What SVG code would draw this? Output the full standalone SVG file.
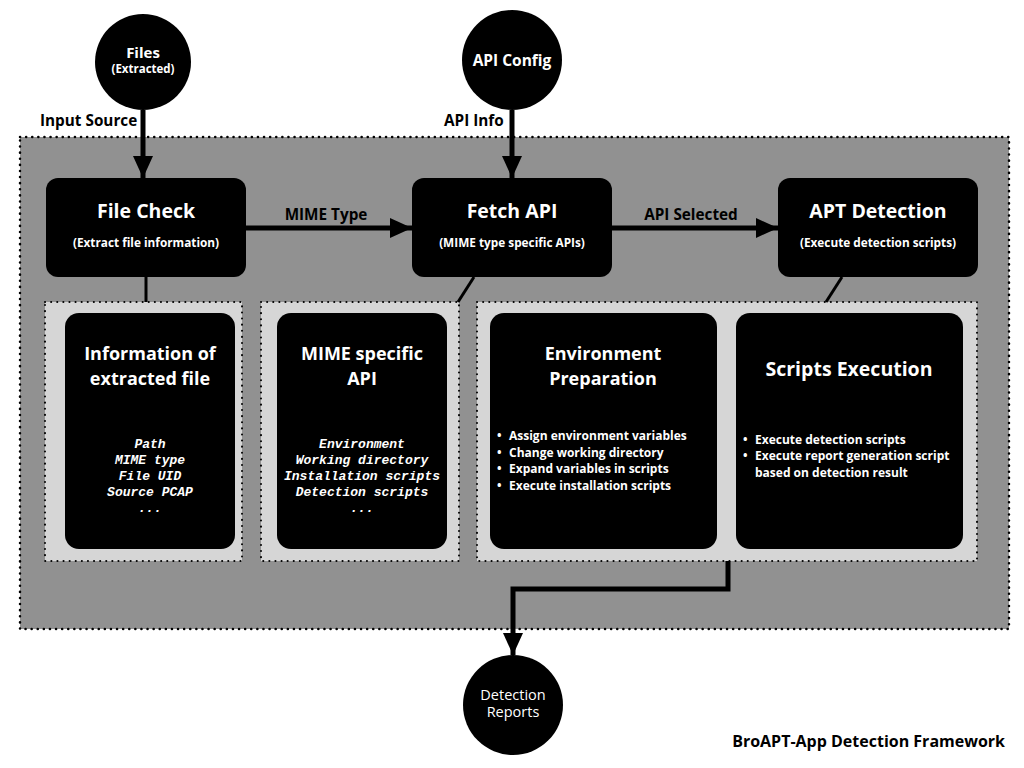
<svg xmlns="http://www.w3.org/2000/svg" width="1024" height="768" viewBox="0 0 1024 768">
<defs>
<style>
.t{font-family:"Open Sans","Liberation Sans",sans-serif;font-weight:bold;}
.w{fill:#fff;}
.k{fill:#000;}
.node{fill:#000;}
.mono{font-family:"Liberation Mono","DejaVu Sans Mono",monospace;font-style:italic;font-weight:bold;font-size:13px;fill:#fff;text-anchor:middle;}
.edge{stroke:#000;stroke-width:5;fill:none;}
.thin{stroke:#000;stroke-width:3;fill:none;}
.panel{fill:#d6d6d6;stroke:#000;stroke-width:2;stroke-dasharray:0.1 6;stroke-linecap:round;}
.h2{font-size:18px;text-anchor:middle;}
</style>
<marker id="ah" markerUnits="userSpaceOnUse" markerWidth="22" markerHeight="20" refX="22" refY="10" orient="auto">
<path d="M0,0 L22,10 L0,20 z" fill="#000"/>
</marker>
</defs>
<rect width="1024" height="768" fill="#fff"/>
<g id="frame">
<rect x="20" y="137" width="989" height="492" fill="#919191" stroke="#000" stroke-width="2.5" stroke-dasharray="0.1 6" stroke-linecap="round"/>
<rect class="panel" x="45" y="302" width="197" height="259"/>
<rect class="panel" x="261" y="302" width="198" height="259"/>
<rect class="panel" x="477" y="302" width="500" height="259"/>
</g>
<g id="connectors">
<line class="edge" x1="143" y1="110" x2="143" y2="178" marker-end="url(#ah)"/>
<line class="edge" x1="512" y1="110" x2="512" y2="178" marker-end="url(#ah)"/>
<line class="edge" x1="246" y1="228" x2="412" y2="228" marker-end="url(#ah)"/>
<line class="edge" x1="612" y1="228" x2="778" y2="228" marker-end="url(#ah)"/>
<line class="thin" x1="146" y1="277" x2="146" y2="302"/>
<line class="thin" x1="474" y1="277" x2="458" y2="302"/>
<line class="thin" x1="842" y1="277" x2="826" y2="302"/>
<polyline class="edge" points="728,561 728,589 513,589 513,655" marker-end="url(#ah)"/>
<text class="t k" x="40" y="126" font-size="15.3">Input Source</text>
<text class="t k" x="444" y="126" font-size="15.3">API Info</text>
<text class="t k" x="326" y="220" font-size="15.3" text-anchor="middle">MIME Type</text>
<text class="t k" x="691" y="220" font-size="15.3" text-anchor="middle">API Selected</text>
</g>
<g id="files">
<circle class="node" cx="143" cy="62" r="48"/>
<text class="t w" x="143" y="58" font-size="15" text-anchor="middle">Files</text>
<text class="t w" x="143" y="73" font-size="11.5" text-anchor="middle">(Extracted)</text>
</g>
<g id="api-config">
<circle class="node" cx="512" cy="60" r="50"/>
<text class="t w" x="512" y="66" font-size="15.5" text-anchor="middle">API Config</text>
</g>
<g id="file-check">
<rect class="node" x="46" y="178" width="200" height="99" rx="12"/>
<text class="t w" x="146" y="218" font-size="19.5" text-anchor="middle">File Check</text>
<text class="t w" x="146" y="247" font-size="11.8" text-anchor="middle">(Extract file information)</text>
</g>
<g id="fetch-api">
<rect class="node" x="412" y="178" width="200" height="99" rx="12"/>
<text class="t w" x="512" y="218" font-size="19.5" text-anchor="middle">Fetch API</text>
<text class="t w" x="512" y="247" font-size="11.8" text-anchor="middle">(MIME type specific APIs)</text>
</g>
<g id="apt-detection">
<rect class="node" x="778" y="178" width="200" height="99" rx="12"/>
<text class="t w" x="878" y="218" font-size="19.5" text-anchor="middle">APT Detection</text>
<text class="t w" x="878" y="247" font-size="11.8" text-anchor="middle">(Execute detection scripts)</text>
</g>
<g id="info-extracted">
<rect class="node" x="65" y="313" width="170" height="236" rx="14"/>
<text class="t w h2" x="150" y="360">Information of</text>
<text class="t w h2" x="150" y="385">extracted file</text>
<text class="mono" x="150" y="448">Path</text>
<text class="mono" x="150" y="464">MIME type</text>
<text class="mono" x="150" y="480">File UID</text>
<text class="mono" x="150" y="496">Source PCAP</text>
<text class="mono" x="150" y="512">...</text>
</g>
<g id="mime-api">
<rect class="node" x="277" y="313" width="170" height="236" rx="14"/>
<text class="t w h2" x="362" y="360">MIME specific</text>
<text class="t w h2" x="362" y="385">API</text>
<text class="mono" x="362" y="448">Environment</text>
<text class="mono" x="362" y="464">Working directory</text>
<text class="mono" x="362" y="480">Installation scripts</text>
<text class="mono" x="362" y="496">Detection scripts</text>
<text class="mono" x="362" y="512">...</text>
</g>
<g id="env-prep">
<rect class="node" x="490" y="313" width="227" height="236" rx="14"/>
<text class="t w h2" x="603" y="360">Environment</text>
<text class="t w h2" x="603" y="385">Preparation</text>
<g class="t w" font-size="12">
<text x="497" y="440">•</text><text x="509" y="440">Assign environment variables</text>
<text x="497" y="457">•</text><text x="509" y="457">Change working directory</text>
<text x="497" y="473">•</text><text x="509" y="473">Expand variables in scripts</text>
<text x="497" y="490">•</text><text x="509" y="490">Execute installation scripts</text>
</g>
</g>
<g id="scripts-exec">
<rect class="node" x="736" y="313" width="227" height="236" rx="14"/>
<text class="t w" x="849" y="376" font-size="19.5" text-anchor="middle">Scripts Execution</text>
<g class="t w" font-size="12">
<text x="743" y="444">•</text><text x="755" y="444">Execute detection scripts</text>
<text x="743" y="460">•</text><text x="755" y="460">Execute report generation script</text>
<text x="755" y="477">based on detection result</text>
</g>
</g>
<g id="detection-reports">
<circle class="node" cx="513" cy="705" r="50"/>
<text x="513" y="700" font-family="'Open Sans','Liberation Sans',sans-serif" font-size="14.5" fill="#fff" text-anchor="middle">Detection</text>
<text x="513" y="717" font-family="'Open Sans','Liberation Sans',sans-serif" font-size="14.5" fill="#fff" text-anchor="middle">Reports</text>
</g>
<text class="t k" x="1005" y="747" font-size="16" text-anchor="end">BroAPT-App Detection Framework</text>
</svg>
